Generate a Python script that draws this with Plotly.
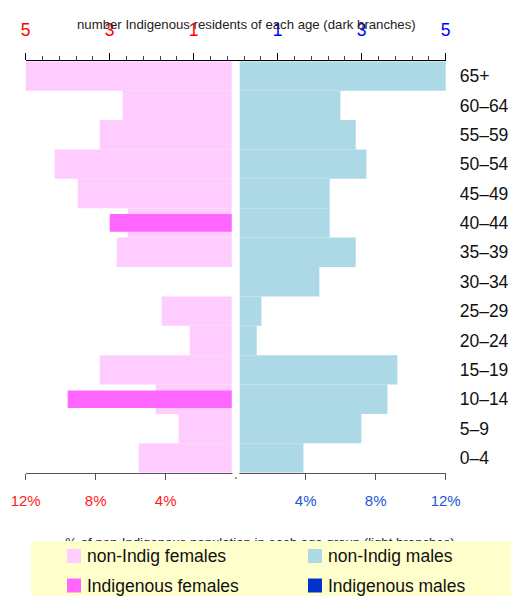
import plotly.graph_objects as go

W, H = 511, 596

# ---------------- data ----------------
age_groups = ["0–4", "5–9", "10–14", "15–19", "20–24", "25–29", "30–34",
              "35–39", "40–44", "45–49", "50–54", "55–59", "60–64", "65+"]
# % of non-Indigenous population in each age group (light branches)
nonindig_female_pct = [5.54, 3.26, 4.57, 7.77, 2.63, 4.23, 0.0,
                       6.80, 6.17, 9.03, 10.34, 7.77, 6.46, 12.34]
nonindig_male_pct = [3.87, 7.18, 8.67, 9.24, 1.20, 1.47, 4.78,
                     6.86, 5.37, 5.37, 7.47, 6.86, 5.98, 12.27]
# number of Indigenous residents of each age (dark branches)
indig_female_n = [0, 0, 4, 0, 0, 0, 0, 0, 3, 0, 0, 0, 0, 0]
indig_male_n = [0, 0, 0, 0, 0, 0, 0, 0, 0, 0, 0, 0, 0, 0]

pct_ticks = [-12, -8, -4, 4, 8, 12]
pct_ticktext = ["12%", "8%", "4%", "4%", "8%", "12%"]
n_ticks = [-5, -3, -1, 1, 3, 5]
n_ticktext = ["5", "3", "1", "1", "3", "5"]

# ---------------- style ----------------
C_NF, C_IF = "#FFCCFF", "#FF66FF"
C_NM, C_IM = "#ADD8E6", "#0033CC"
NARROW = "Liberation Sans Narrow, Arial Narrow, Liberation Sans, Arial, sans-serif"
SANS = "Liberation Sans, Arial, Helvetica, sans-serif"
PCT_RANGE = 12.0
N_RANGE = 5.0
GAP_PCT = 0.2286   # half-gap between branches, in % units
GAP_N = GAP_PCT * N_RANGE / PCT_RANGE

def px_x(p):
    return p / W

def px_y(p):
    return 1 - p / H

def colored(texts, vals, neg, pos):
    return [f'<span style="color:{neg if v < 0 else pos}">{t}</span>' for t, v in zip(texts, vals)]

fig = go.Figure()

fig.add_trace(go.Bar(
    y=age_groups, x=[-max(v - GAP_PCT, 0) for v in nonindig_female_pct], base=-GAP_PCT,
    orientation="h", width=1, marker=dict(color=C_NF, line=dict(width=0)),
    name="non-Indig females", xaxis="x", yaxis="y", cliponaxis=False, showlegend=False))
fig.add_trace(go.Bar(
    y=age_groups, x=[max(v - GAP_PCT, 0) for v in nonindig_male_pct], base=GAP_PCT,
    orientation="h", width=1, marker=dict(color=C_NM, line=dict(width=0)),
    name="non-Indig males", xaxis="x", yaxis="y", cliponaxis=False, showlegend=False))
fig.add_trace(go.Bar(
    y=age_groups, x=[-max(v - GAP_N, 0) for v in indig_female_n], base=-GAP_N,
    orientation="h", width=0.6, marker=dict(color=C_IF, line=dict(width=0)),
    name="Indigenous females", xaxis="x2", yaxis="y", cliponaxis=False, showlegend=False))
fig.add_trace(go.Bar(
    y=age_groups, x=[max(v - GAP_N, 0) for v in indig_male_n], base=GAP_N,
    orientation="h", width=0.6, marker=dict(color=C_IM, line=dict(width=0)),
    name="Indigenous males", xaxis="x2", yaxis="y", cliponaxis=False, showlegend=False))

# bottom axis title, partly hidden behind the legend box (clipped subplot)
fig.add_trace(go.Scatter(
    x=[260], y=[-0.12], mode="text",
    text=["% of non-Indigenous population in each age group (light branches)"],
    textposition="middle center", textfont=dict(family=NARROW, size=13.2, color="#222222"),
    xaxis="x3", yaxis="y3", cliponaxis=True, showlegend=False, hoverinfo="skip"))

x_dom = [px_x(25.7), px_x(445.7)]
y_dom = [px_y(472.7), px_y(61.3)]

fig.update_layout(
    template="none",
    width=W, height=H, margin=dict(l=0, r=0, t=0, b=0, pad=0), autosize=False,
    paper_bgcolor="white", plot_bgcolor="rgba(0,0,0,0)",
    barmode="overlay", showlegend=False,
    xaxis=dict(domain=x_dom, range=[-PCT_RANGE, PCT_RANGE], anchor="y", automargin=False,
               tickmode="array", tickvals=pct_ticks,
               ticktext=colored(pct_ticktext, pct_ticks, "#FF1A1A", "#2255DD"),
               ticks="outside", ticklen=6, tickcolor="#555555", tickwidth=1,
               showline=True, linecolor="#555555", linewidth=1.3,
               showgrid=False, zeroline=False, ticklabelstandoff=8,
               tickfont=dict(family=NARROW, size=15)),
    xaxis2=dict(overlaying="x", side="top", anchor="y", range=[-N_RANGE, N_RANGE],
                automargin=False, tickmode="array", tickvals=n_ticks,
                ticktext=colored(n_ticktext, n_ticks, "#FF0000", "#0000FF"),
                ticks="outside", ticklen=7, tickcolor="#000000", tickwidth=1,
                minor=dict(tickmode="linear", tick0=-5, dtick=0.4, ticks="outside",
                           ticklen=4, tickcolor="#444444", tickwidth=1, showgrid=False),
                showline=True, linecolor="#000000", linewidth=1,
                showgrid=False, zeroline=False, ticklabelstandoff=10,
                tickfont=dict(family=NARROW, size=17.5)),
    yaxis=dict(domain=y_dom, type="category", categoryorder="array", automargin=False,
               categoryarray=age_groups, range=[-0.5, len(age_groups) - 0.5],
               side="right", anchor="x", ticks="", showline=False, showgrid=False,
               zeroline=False, ticklabelstandoff=13,
               tickfont=dict(family=SANS, size=17.5, color="#111111")),
    xaxis3=dict(domain=[0, 1], range=[0, W], anchor="y3", visible=False, automargin=False),
    yaxis3=dict(domain=[px_y(541), px_y(515)], range=[0, 1], anchor="x3", visible=False,
                automargin=False),
)

shapes = []
# gap in the bottom axis line and the small centre dot
shapes.append(dict(type="rect", xref="paper", yref="paper",
                   x0=px_x(232.4), x1=px_x(239.3), y0=px_y(476), y1=px_y(471),
                   fillcolor="white", line=dict(width=0), layer="above"))
shapes.append(dict(type="rect", xref="paper", yref="paper",
                   x0=px_x(235.2), x1=px_x(236.4), y0=px_y(479), y1=px_y(477),
                   fillcolor="#555555", line=dict(width=0), layer="above"))
# legend box
shapes.append(dict(type="rect", xref="paper", yref="paper",
                   x0=px_x(31), x1=px_x(530), y0=px_y(610), y1=px_y(541),
                   fillcolor="#FFFFCC", line=dict(width=0), layer="above"))

legend_items = [("non-Indig females", C_NF, 67, 556),
                ("non-Indig males", C_NM, 308, 556),
                ("Indigenous females", C_IF, 67, 585.5),
                ("Indigenous males", C_IM, 308, 585.5)]
annotations = []
for label, col, lx, ly in legend_items:
    shapes.append(dict(type="rect", xref="paper", yref="paper",
                       x0=px_x(lx), x1=px_x(lx + 14), y0=px_y(ly + 7), y1=px_y(ly - 7),
                       fillcolor=col, line=dict(width=0), layer="above"))
    annotations.append(dict(text=label, xref="paper", yref="paper",
                            x=px_x(lx + 18), y=px_y(ly), xanchor="left", yanchor="middle",
                            showarrow=False, font=dict(family=SANS, size=17.5, color="#111111")))

annotations.append(dict(text="number Indigenous residents of each age (dark branches)",
                        xref="paper", yref="paper", x=px_x(246), y=px_y(25),
                        xanchor="center", yanchor="middle", showarrow=False,
                        font=dict(family=NARROW, size=13.2, color="#222222")))

fig.update_layout(shapes=shapes, annotations=annotations)

fig.write_html("out.html", config={"displayModeBar": False},
               post_script="document.body.style.margin='0';document.body.style.overflow='hidden';")
